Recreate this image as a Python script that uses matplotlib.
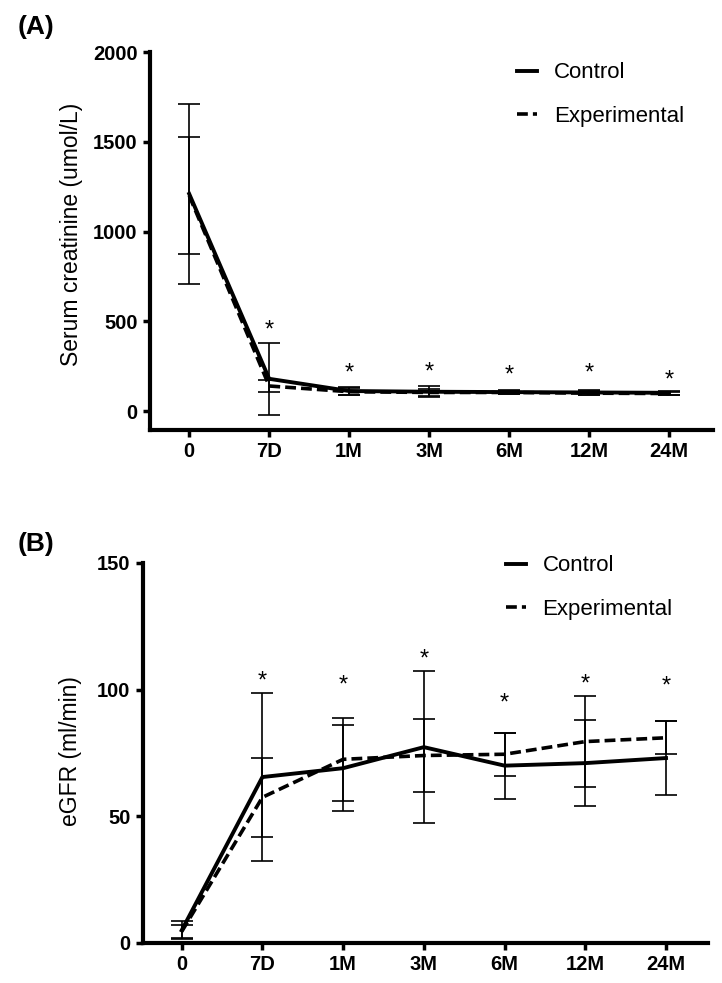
import matplotlib
matplotlib.use("Agg")
import matplotlib.pyplot as plt
import numpy as np

plt.rcParams['font.family'] = ['Liberation Sans', 'DejaVu Sans']

timepoints = ['0', '7D', '1M', '3M', '6M', '12M', '24M']

# (A) serum creatinine, umol/L
scr_control = [1210, 180, 112, 108, 106, 104, 102]
scr_control_sd = [500, 200, 25, 30, 10, 15, 10]
scr_exp = [1200, 140, 108, 104, 104, 100, 98]
scr_exp_sd = [325, 35, 20, 20, 8, 12, 8]
scr_star_y = [None, 450, 210, 215, 200, 210, 170]

# (B) eGFR, ml/min
egfr_control = [5.0, 65.5, 69.0, 77.3, 70.0, 71.0, 73.0]
egfr_control_sd = [3.5, 33.0, 17.0, 30.0, 13.0, 17.0, 14.5]
egfr_exp = [4.5, 57.5, 72.5, 74.0, 74.5, 79.5, 81.0]
egfr_exp_sd = [2.5, 15.5, 16.5, 14.5, 8.5, 18.0, 6.5]
egfr_star_y = [None, 103.3, 101.8, 112.0, 94.5, 102.0, 101.3]

fig = plt.figure(figsize=(7.22, 9.83), dpi=100)
axA = fig.add_axes([0.2078, 0.5626, 0.9875 - 0.2078, 0.947 - 0.5626])
axB = fig.add_axes([0.198, 0.0407, 0.9806 - 0.198, 0.4273 - 0.0407])

x = np.arange(len(timepoints))
dash = (0, (3.0, 1.4))


def draw_panel(ax, ctrl, ctrl_sd, exp, exp_sd, stars):
    ax.errorbar(x, ctrl, yerr=ctrl_sd, fmt='none', ecolor='black',
                elinewidth=1.2, capsize=8, capthick=1.2, zorder=2)
    ax.errorbar(x, exp, yerr=exp_sd, fmt='none', ecolor='black',
                elinewidth=1.2, capsize=8, capthick=1.2, zorder=2)
    ax.plot(x, ctrl, color='black', lw=2.8, ls='-', label='Control', zorder=3)
    ax.plot(x, exp, color='black', lw=2.6, ls=dash, label='Experimental', zorder=3)
    for xi, sy in zip(x, stars):
        if sy is not None:
            ax.text(xi, sy, '*', ha='center', va='center', fontsize=17)
    ax.set_xticks(x)
    ax.set_xticklabels(timepoints, fontweight='bold', fontsize=14.5)
    ax.tick_params(axis='both', width=2.5, length=5, labelsize=14.5, pad=4)
    ax.spines['top'].set_visible(False)
    ax.spines['right'].set_visible(False)
    ax.spines['left'].set_linewidth(3)
    ax.spines['bottom'].set_linewidth(3)


def add_legend(ax, anchor):
    ax.legend(loc='upper left', bbox_to_anchor=anchor, frameon=False,
              fontsize=16, borderpad=0, borderaxespad=0, handlelength=0.9,
              handletextpad=0.75, labelspacing=1.0)


# panel A
draw_panel(axA, scr_control, scr_control_sd, scr_exp, scr_exp_sd, scr_star_y)
axA.set_xlim(-0.49, 6.55)
axA.set_ylim(-105, 2000)
axA.set_yticks([0, 500, 1000, 1500, 2000])
axA.set_yticklabels(['0', '500', '1000', '1500', '2000'], fontweight='bold')
axA.set_ylabel('Serum creatinine (umol/L)', fontsize=16.5)
axA.yaxis.set_label_coords(-0.119, 0.517)
add_legend(axA, (0.652, 0.973))

# panel B
draw_panel(axB, egfr_control, egfr_control_sd, egfr_exp, egfr_exp_sd, egfr_star_y)
axB.set_xlim(-0.48, 6.52)
axB.set_ylim(0, 150)
axB.set_yticks([0, 50, 100, 150])
axB.set_yticklabels(['0', '50', '100', '150'], fontweight='bold')
axB.set_ylabel('eGFR (ml/min)', fontsize=16.5)
axB.yaxis.set_label_coords(-0.108, 0.504)
add_legend(axB, (0.642, 1.02))

fig.text(0.025, 0.985, '(A)', fontsize=19, fontweight='bold', ha='left', va='top')
fig.text(0.025, 0.459, '(B)', fontsize=19, fontweight='bold', ha='left', va='top')

fig.savefig('out.png', dpi=100)
